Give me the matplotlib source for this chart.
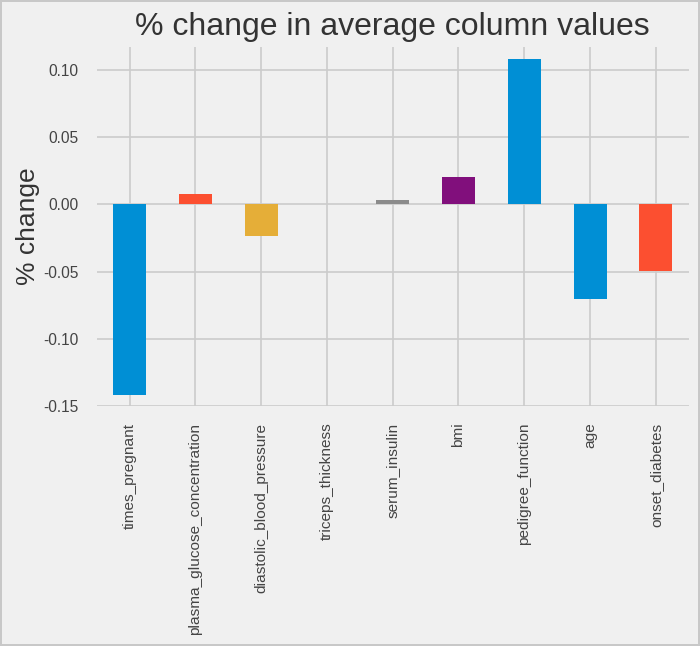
import matplotlib
matplotlib.use("Agg")
import matplotlib.pyplot as plt
import numpy as np

plt.style.use('fivethirtyeight')
plt.rcParams['font.family'] = ['Liberation Sans', 'DejaVu Sans']

columns = ['times_pregnant', 'plasma_glucose_concentration', 'diastolic_blood_pressure',
           'triceps_thickness', 'serum_insulin', 'bmi', 'pedigree_function', 'age',
           'onset_diabetes']
pct_change = [-0.142, 0.008, -0.0233, 0.0, 0.0035, 0.0203, 0.108, -0.0705, -0.0496]
bar_colors = ['#008fd5', '#fc4f30', '#e5ae38', '#6d904f', '#8b8b8b', '#810f7c',
              '#008fd5', '#008fd5', '#fc4f30']
yticks = [-0.15, -0.10, -0.05, 0.00, 0.05, 0.10]

fig = plt.figure(figsize=(7, 6.46), dpi=100)
fig.patch.set_facecolor('#f0f0f0')
fig.patch.set_edgecolor('#c8c8c8')
fig.patch.set_linewidth(1.5)
ax = fig.add_axes([0.138, 0.3715, 0.846, 0.5555])
ax.set_facecolor('#f0f0f0')

x = np.arange(len(columns))
ax.bar(x, pct_change, width=0.5, color=bar_colors, zorder=3)

ax.set_xlim(-0.5, len(columns) - 0.5)
ax.set_ylim(-0.15, 0.117)
ax.set_xticks(x)
ax.set_xticklabels(columns, rotation=90, fontsize=11.1, color='#444444')
ax.set_yticks(yticks)
ax.set_yticklabels(['%.2f' % v for v in yticks], fontsize=11.2, color='#444444')
ax.tick_params(axis='y', pad=13, length=0)
ax.tick_params(axis='x', pad=12, length=0)
ax.grid(True, color='#cbcbcb', linewidth=1.2, zorder=0)
ax.set_axisbelow(True)
for s in ax.spines.values():
    s.set_visible(False)

ax.set_ylabel('% change', fontsize=19, color='#333333', labelpad=2)
ax.set_title('% change in average column values', fontsize=23, color='#333333', pad=9)

fig.savefig('out.png', dpi=100, facecolor=fig.get_facecolor(), edgecolor=fig.get_edgecolor())
